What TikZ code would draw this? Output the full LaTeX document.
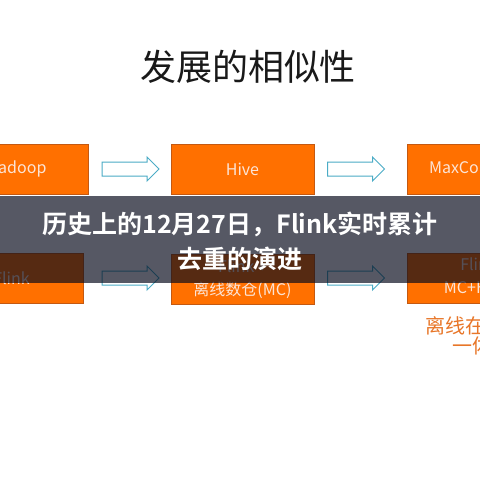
\documentclass[tikz,border=0pt]{standalone}
\usepackage{fontspec}
\setmainfont{Noto Sans CJK SC}[BoldFont={Noto Sans CJK SC Bold}]
\usepackage{xcolor}
\usetikzlibrary{shapes.arrows, positioning, calc}

\definecolor{boxorange}{RGB}{255,112,0}
\definecolor{boxedge}{RGB}{196,89,17}
\definecolor{boxtext}{RGB}{252,228,214}
\definecolor{flowblue}{RGB}{75,172,198}
\definecolor{bannerbg}{RGB}{6,10,28}
\definecolor{notetext}{RGB}{232,118,40}

\begin{document}
\begin{tikzpicture}[
    x=1pt, y=-1pt,
    stage/.style={draw=boxedge, line width=0.8pt, fill=boxorange, text=boxtext,
        minimum width=143pt, minimum height=50pt, inner sep=0pt,
        align=center, font=\fontsize{16}{23}\selectfont},
    flow/.style={single arrow, draw=flowblue, line width=1pt, fill=white,
        minimum height=57pt, minimum width=23pt, inner xsep=0pt, inner ysep=6.5pt,
        single arrow head extend=5pt},
    headline/.style={text=white, align=center, font=\bfseries\fontsize{25}{35}\selectfont},
    note/.style={anchor=west, inner sep=0pt, text=notetext, font=\fontsize{20}{22}\selectfont}
]
\useasboundingbox (0,0) rectangle (480,480);
\clip (0,0) rectangle (480,480);
\fill[white] (0,0) rectangle (480,480);

% ---- title ----
\node[font=\fontsize{36}{40}\selectfont, text=black!90] (title) at (248,67) {发展的相似性};

% ---- first row ----
\node[stage] (hadoop) at (16.5,169) {Hadoop};
\node[stage] (hive) at (242.5,169) {Hive};
\node[stage] (maxcompute) at (478.5,169) {MaxCompute};
\node[flow] (flowA) at (127,169) {};
\node[flow] (flowB) at (352.5,169) {};

% ---- second row ----
\node[stage] (flink) at (11.5,278) {Flink};
\node[stage] (flinkmc) at (242.5,279) {Flink +\\离线数仓(MC)};
\node[stage] (flinkall) at (478.5,278) {Flink\\\hspace*{30pt}MC+Hologres};
\node[flow] (flowC) at (127,278) {};
\node[flow] (flowD) at (352.5,278) {};

% note under the last box
\node[note] (note1) at (425,326) {离线在线};
\node[note] (note2) at (452,346) {一体化};

% ---- banner ----
\fill[bannerbg, fill opacity=0.68] (0,196) rectangle (480,283);
\node[headline] (banner) at (240,241) {历史上的12月27日，Flink实时累计\\去重的演进};

\end{tikzpicture}
\end{document}
